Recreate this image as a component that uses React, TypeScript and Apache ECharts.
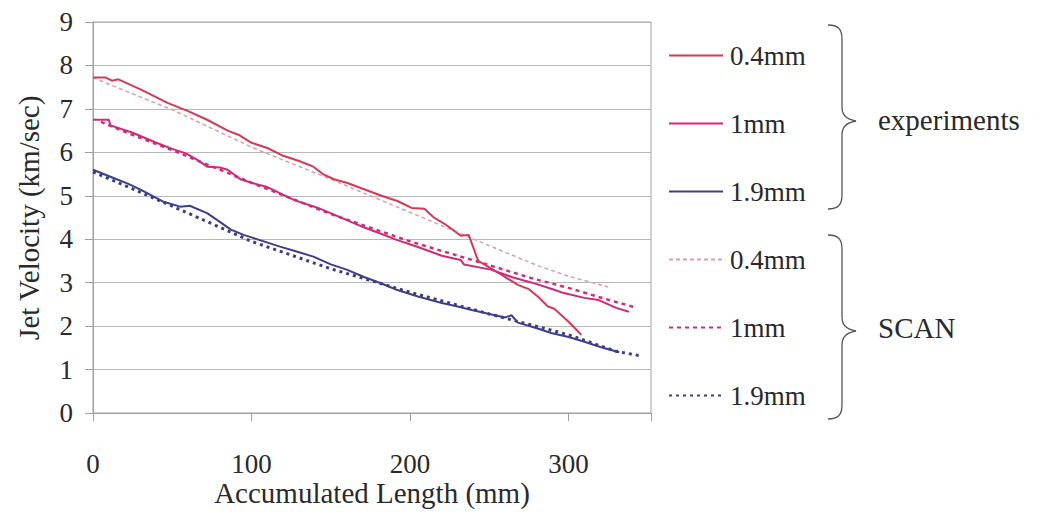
import React, { useEffect, useRef } from "react";
import * as echarts from "echarts";

const exp04: number[][] = [[0,7.72],[8,7.72],[12,7.65],[16,7.68],[30,7.45],[47,7.14],[60,6.95],[72,6.75],[85,6.5],[92,6.4],[100,6.22],[110,6.1],[120,5.92],[130,5.8],[139,5.67],[145,5.5],[152,5.38],[160,5.3],[171,5.15],[182,5.0],[192,4.88],[201,4.72],[209,4.7],[215,4.5],[222,4.35],[232,4.08],[237,4.1],[243,3.5],[250,3.35],[256,3.22],[268,2.95],[275,2.85],[281,2.67],[287,2.45],[291,2.4],[300,2.1],[308,1.8]];
const exp1: number[][] = [[0,6.75],[10,6.75],[11,6.62],[25,6.45],[40,6.22],[50,6.08],[59,5.97],[66,5.82],[72,5.67],[80,5.65],[85,5.6],[93,5.38],[100,5.3],[110,5.2],[127,4.9],[142,4.72],[155,4.52],[169,4.3],[180,4.15],[192,3.98],[205,3.82],[220,3.62],[232,3.52],[234,3.42],[251,3.3],[265,3.12],[277,3.0],[290,2.85],[297,2.76],[310,2.65],[319,2.6],[330,2.42],[338,2.33]];
const exp19: number[][] = [[0,5.6],[13,5.41],[22,5.28],[30,5.14],[44,4.87],[55,4.75],[61,4.77],[72,4.6],[80,4.4],[87,4.22],[95,4.1],[101,4.03],[118,3.83],[130,3.7],[139,3.6],[150,3.42],[160,3.3],[171,3.13],[182,2.98],[192,2.83],[205,2.68],[220,2.53],[230,2.45],[239,2.37],[250,2.28],[260,2.2],[264,2.25],[268,2.08],[280,1.95],[289,1.84],[300,1.75],[310,1.64],[320,1.52],[332,1.4]];
const scan04: number[][] = [[0,7.72],[20,7.42],[50,6.98],[100,6.12],[150,5.38],[200,4.62],[250,3.85],[280,3.4],[300,3.15],[325,2.9]];
const scan1: number[][] = [[5,6.7],[25,6.4],[50,6.05],[100,5.3],[150,4.58],[200,3.95],[243,3.48],[277,3.1],[300,2.88],[319,2.67],[343,2.42]];
const scan19: number[][] = [[0,5.55],[30,5.08],[60,4.6],[100,3.95],[150,3.32],[200,2.78],[250,2.28],[300,1.8],[330,1.42],[345,1.32]];

const xTicks = [0, 100, 200, 300];
const yTicks = [0, 1, 2, 3, 4, 5, 6, 7, 8, 9];
const groupLabels = ["experiments", "SCAN"];
const sizeLabels = ["0.4mm", "1mm", "1.9mm"];
const xTitle = "Accumulated Length (mm)";
const yTitle = "Jet Velocity (km/sec)";

const FONT = "Liberation Serif";
const INK = "#2a2a2a";

echarts.graphic.registerShape(
  "brace",
  echarts.graphic.extendPath(
    "M0,0 C10,0 14,4 14,14 L14,82 C14,90 18,94 28,96 C18,98 14,102 14,110 L14,170 C14,180 10,184 0,184",
    {}
  )
);

const measureCtx = document.createElement("canvas").getContext("2d");
function textWidth(s: string, size: number): number {
  if (!measureCtx) return s.length * size * 0.5;
  measureCtx.font = size + 'px "Liberation Serif", serif';
  return measureCtx.measureText(s).width;
}

export default function App() {
  const ref = useRef<HTMLDivElement>(null);
  useEffect(() => {
    document.body.style.margin = "0";
    const chart = echarts.init(ref.current!, null, { renderer: "svg" });
    const mk = (name: string, data: number[][], color: string, type: any, width: number) => ({
      type: "line",
      name,
      data,
      showSymbol: false,
      symbol: "none",
      lineStyle: { color, type, width },
      itemStyle: { color },
      z: 3,
    });
    chart.setOption({
      animation: false,
      backgroundColor: "#fff",
      textStyle: { fontFamily: FONT },
      grid: { left: 93, right: 390, top: 22, bottom: 106, show: true, borderColor: "#a0a0a0", borderWidth: 1 },
      xAxis: {
        type: "value",
        min: 0,
        max: 352,
        interval: 100,
        axisLine: { show: true, lineStyle: { color: "#a0a0a0" } },
        axisTick: { show: true, length: 8, lineStyle: { color: "#a0a0a0" } },
        axisLabel: { show: false },
        splitLine: { show: false },
      },
      yAxis: {
        type: "value",
        min: 0,
        max: 9,
        interval: 1,
        axisLine: { show: true, lineStyle: { color: "#a0a0a0" } },
        axisTick: { show: true, length: 8, lineStyle: { color: "#a0a0a0" } },
        axisLabel: { show: false },
        splitLine: { show: true, lineStyle: { color: "#b8b8b8", width: 1 } },
      },
      legend: {
        orient: "vertical",
        left: 668,
        top: 42,
        padding: 0,
        itemWidth: 54,
        itemHeight: 2,
        itemGap: 41,
        selectedMode: false,
        itemStyle: { opacity: 0 },
        formatter: (n: string) => n.split("|")[1],
        textStyle: { fontFamily: FONT, fontSize: 27, color: INK, padding: [0, 0, 0, 2] },
        data: [
          "exp|" + sizeLabels[0], "exp|" + sizeLabels[1], "exp|" + sizeLabels[2],
          "scan|" + sizeLabels[0], "scan|" + sizeLabels[1], "scan|" + sizeLabels[2],
        ],
      },
      series: [
        mk("scan|" + sizeLabels[0], scan04, "#d8a0ac", [4, 3], 1.5),
        mk("scan|" + sizeLabels[1], scan1, "#d0306e", [4, 4], 2.5),
        mk("scan|" + sizeLabels[2], scan19, "#3a3d80", [3, 4], 3),
        mk("exp|" + sizeLabels[0], exp04, "#d43a52", "solid", 2),
        mk("exp|" + sizeLabels[1], exp1, "#cf2a7a", "solid", 2),
        mk("exp|" + sizeLabels[2], exp19, "#3e3f8a", "solid", 2),
      ],
    });

    const x0 = chart.convertToPixel({ xAxisIndex: 0 }, 0) as number;
    const xEnd = chart.convertToPixel({ xAxisIndex: 0 }, 352) as number;
    const y0 = chart.convertToPixel({ yAxisIndex: 0 }, 0) as number;
    const yTop = chart.convertToPixel({ yAxisIndex: 0 }, 9) as number;
    const txt = (x: number, y: number, text: string, size: number, va: string, rotation = 0) => ({
      type: "text",
      x,
      y,
      rotation,
      style: { text, fontFamily: FONT, fontSize: size, fill: INK, align: "left", verticalAlign: va },
    });
    const graphic: any[] = [
      { type: "brace", x: 828, y: 25, style: { stroke: "#555", fill: "none", lineWidth: 1.3 } },
      { type: "brace", x: 828, y: 235, style: { stroke: "#555", fill: "none", lineWidth: 1.3 } },
      txt(878, 120, groupLabels[0], 29, "middle"),
      txt(878, 328, groupLabels[1], 29, "middle"),
      txt((x0 + xEnd) / 2 - textWidth(xTitle, 29) / 2, y0 + 65, xTitle, 29, "top"),
      txt(x0 - 50, (y0 + yTop) / 2 + textWidth(yTitle, 29) / 2, yTitle, 29, "bottom", Math.PI / 2),
    ];
    xTicks.forEach((v) => {
      const px = chart.convertToPixel({ xAxisIndex: 0 }, v) as number;
      graphic.push(txt(px - textWidth(String(v), 27) / 2, y0 + 37, String(v), 27, "top"));
    });
    yTicks.forEach((v) => {
      const py = chart.convertToPixel({ yAxisIndex: 0 }, v) as number;
      graphic.push(txt(x0 - 20 - textWidth(String(v), 27), py, String(v), 27, "middle"));
    });
    chart.setOption({ graphic });
    return () => chart.dispose();
  }, []);
  return <div ref={ref} style={{ width: 1041, height: 519 }} />;
}
